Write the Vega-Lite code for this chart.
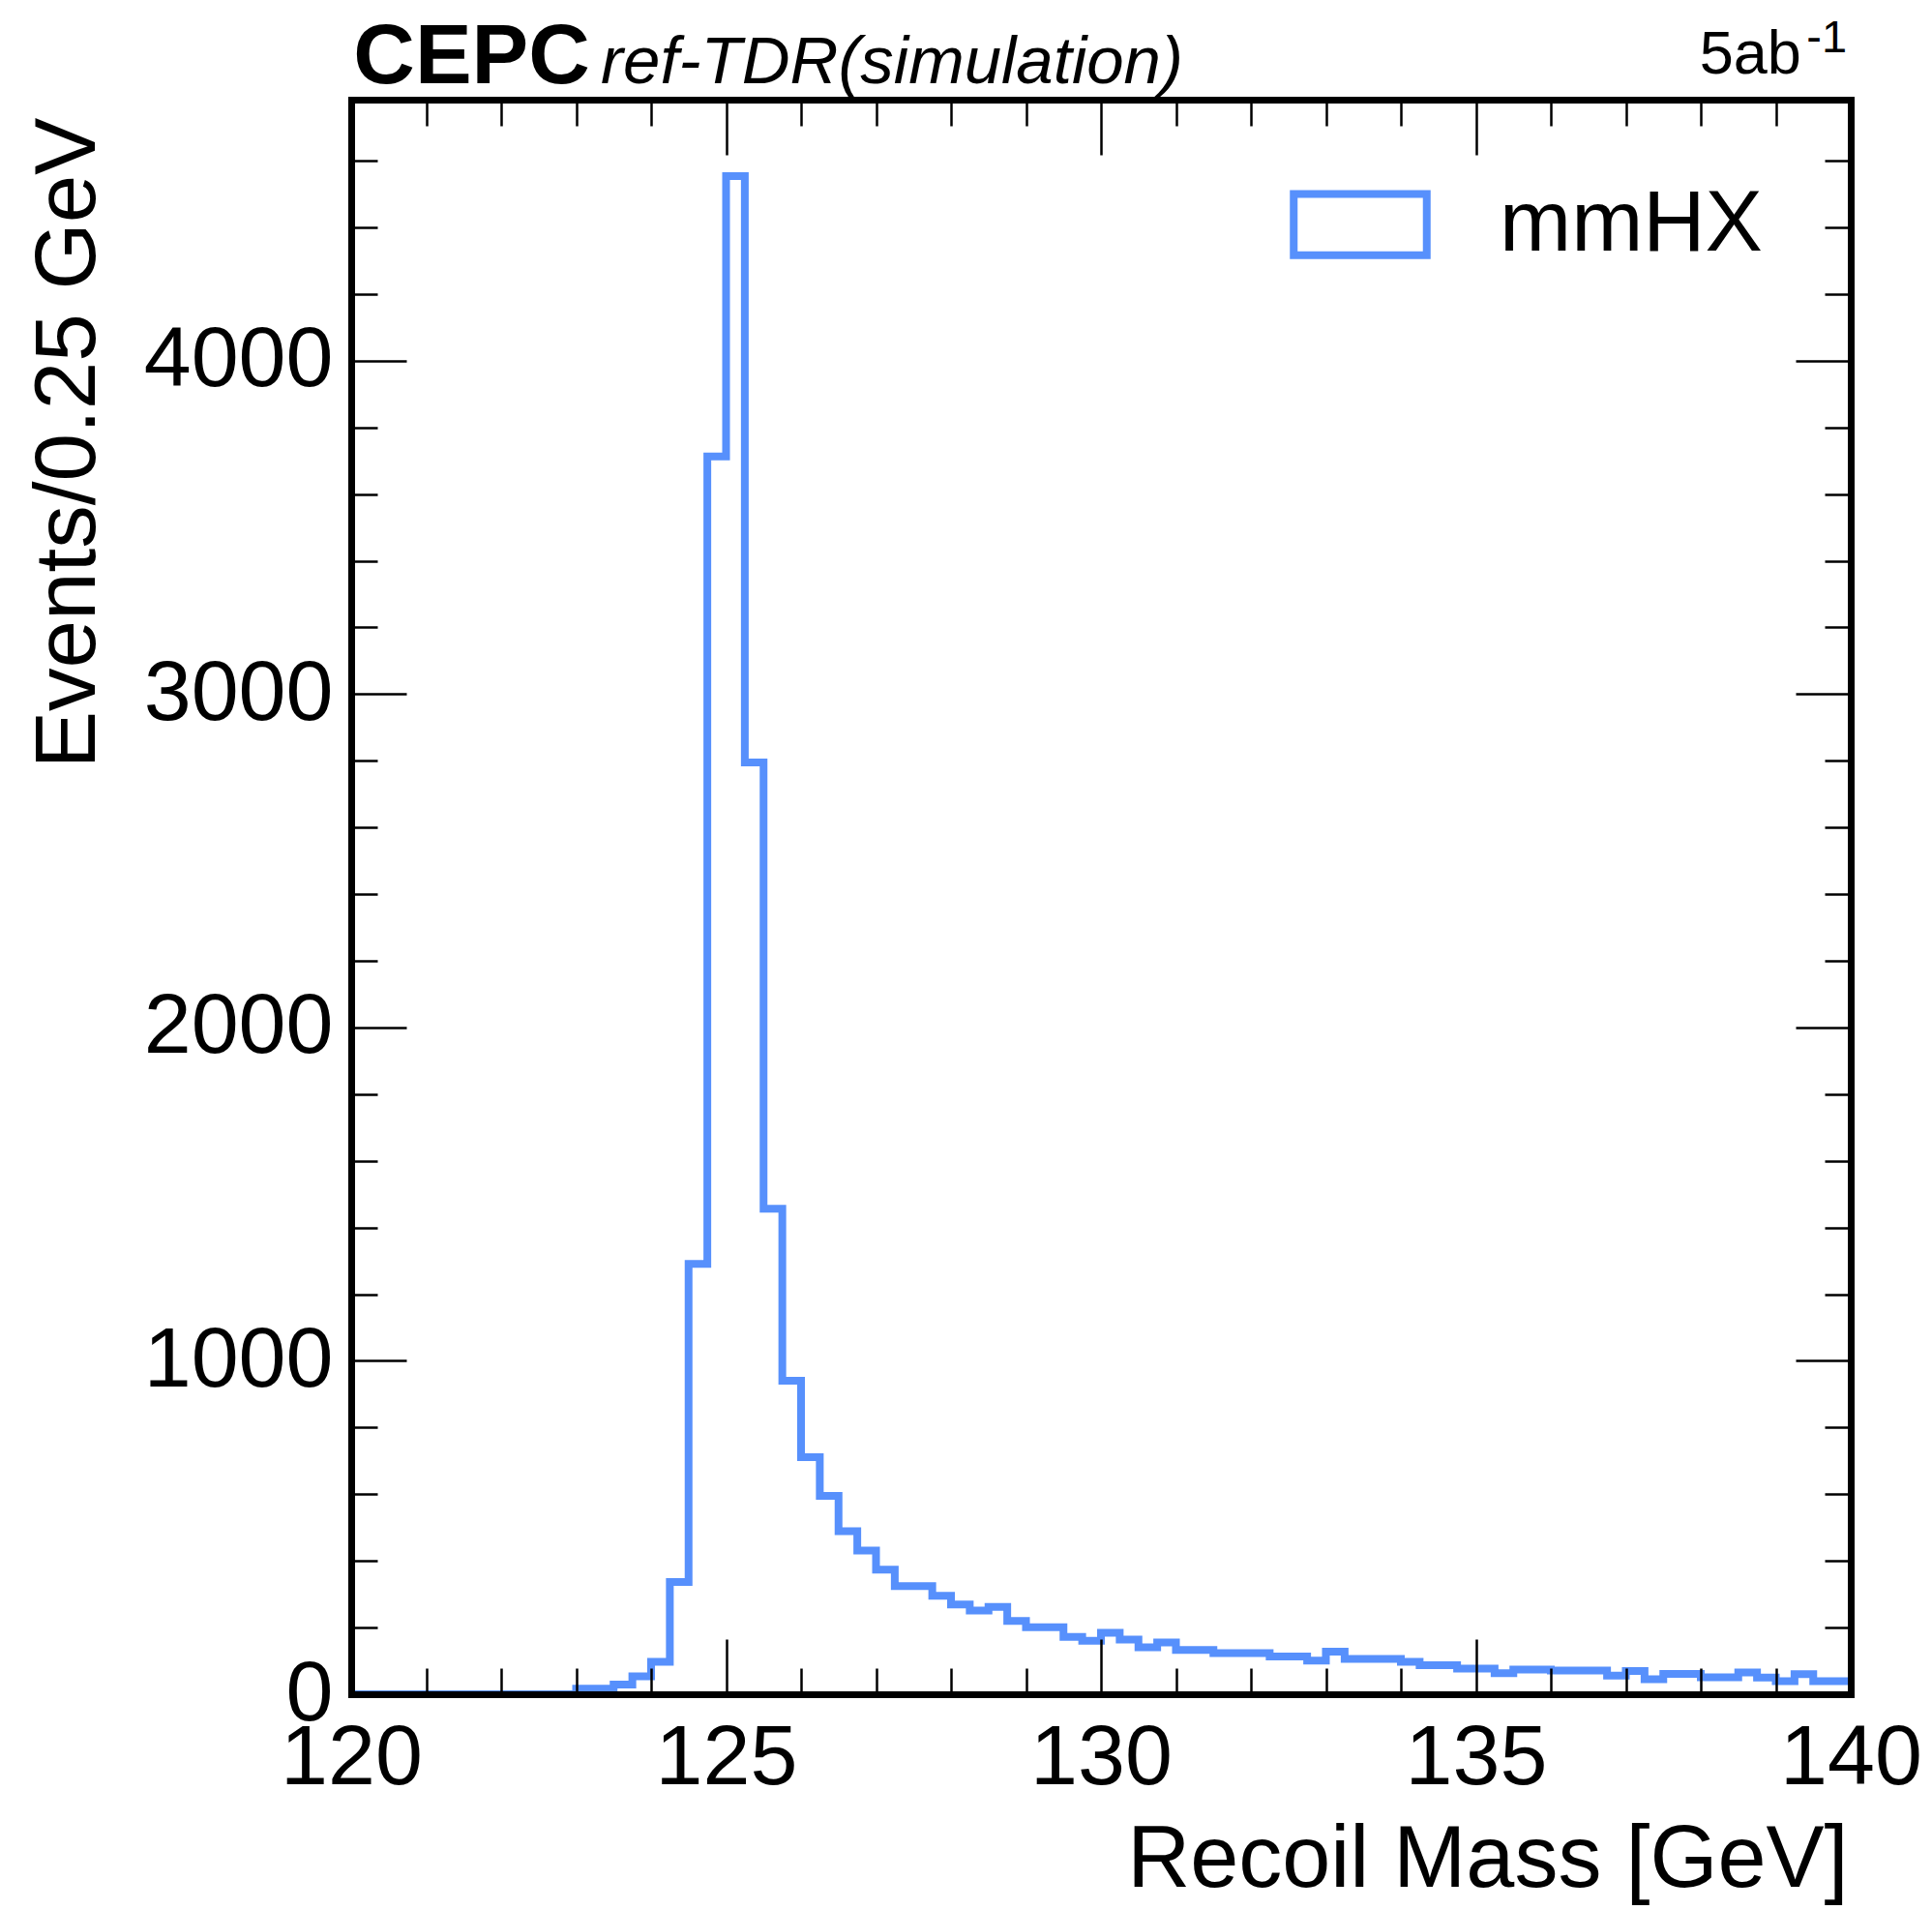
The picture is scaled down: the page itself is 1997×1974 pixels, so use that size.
{
  "$schema": "https://vega.github.io/schema/vega-lite/v6.json",
  "width": 1550,
  "height": 1648,
  "autosize": {"type": "none"},
  "padding": {"left": 363, "top": 103, "right": 84, "bottom": 223},
  "background": "white",
  "view": {"stroke": null},
  "config": {"font": "Liberation Sans"},
  "data": {"values": [
    {"m": 120, "n": 0}, {"m": 120.25, "n": 0}, {"m": 120.5, "n": 0}, {"m": 120.75, "n": 0},
    {"m": 121, "n": 0}, {"m": 121.25, "n": 0}, {"m": 121.5, "n": 0}, {"m": 121.75, "n": 0},
    {"m": 122, "n": 0}, {"m": 122.25, "n": 0}, {"m": 122.5, "n": 0}, {"m": 122.75, "n": 0},
    {"m": 123, "n": 17}, {"m": 123.25, "n": 17}, {"m": 123.5, "n": 29}, {"m": 123.75, "n": 54},
    {"m": 124, "n": 97}, {"m": 124.25, "n": 337}, {"m": 124.5, "n": 1291}, {"m": 124.75, "n": 3713},
    {"m": 125, "n": 4554}, {"m": 125.25, "n": 2795}, {"m": 125.5, "n": 1456}, {"m": 125.75, "n": 940},
    {"m": 126, "n": 711}, {"m": 126.25, "n": 595}, {"m": 126.5, "n": 489}, {"m": 126.75, "n": 431},
    {"m": 127, "n": 374}, {"m": 127.25, "n": 324}, {"m": 127.5, "n": 324}, {"m": 127.75, "n": 295},
    {"m": 128, "n": 269}, {"m": 128.25, "n": 251}, {"m": 128.5, "n": 262}, {"m": 128.75, "n": 220},
    {"m": 129, "n": 201}, {"m": 129.25, "n": 201}, {"m": 129.5, "n": 172}, {"m": 129.75, "n": 160},
    {"m": 130, "n": 184}, {"m": 130.25, "n": 164}, {"m": 130.5, "n": 141}, {"m": 130.75, "n": 155},
    {"m": 131, "n": 133}, {"m": 131.25, "n": 133}, {"m": 131.5, "n": 123}, {"m": 131.75, "n": 123},
    {"m": 132, "n": 123}, {"m": 132.25, "n": 113}, {"m": 132.5, "n": 113}, {"m": 132.75, "n": 101},
    {"m": 133, "n": 128}, {"m": 133.25, "n": 106}, {"m": 133.5, "n": 106}, {"m": 133.75, "n": 106},
    {"m": 134, "n": 97}, {"m": 134.25, "n": 87}, {"m": 134.5, "n": 87}, {"m": 134.75, "n": 77},
    {"m": 135, "n": 77}, {"m": 135.25, "n": 63}, {"m": 135.5, "n": 74}, {"m": 135.75, "n": 74},
    {"m": 136, "n": 71}, {"m": 136.25, "n": 71}, {"m": 136.5, "n": 71}, {"m": 136.75, "n": 56},
    {"m": 137, "n": 70}, {"m": 137.25, "n": 45}, {"m": 137.5, "n": 61}, {"m": 137.75, "n": 61},
    {"m": 138, "n": 51}, {"m": 138.25, "n": 51}, {"m": 138.5, "n": 65}, {"m": 138.75, "n": 50},
    {"m": 139, "n": 39}, {"m": 139.25, "n": 60}, {"m": 139.5, "n": 39}, {"m": 139.75, "n": 39},
    {"m": 140, "n": 39}
  ]},
  "resolve": {"axis": {"x": "independent", "y": "independent"}},
  "layer": [
    {
      "mark": {"type": "line", "interpolate": "step-after", "strokeWidth": 8, "strokeJoin": "miter", "clip": true},
      "encoding": {
        "x": {"field": "m", "type": "quantitative",
          "scale": {"domain": [120, 140], "nice": false, "zero": false},
          "axis": {"orient": "bottom", "values": [120, 125, 130, 135, 140], "format": "d", "ticks": false, "grid": false,
            "domain": true, "domainWidth": 7, "domainColor": "black", "domainCap": "square",
            "labels": true, "labelFont": "Liberation Sans", "labelFontSize": 88, "labelColor": "black", "labelLimit": 0,
            "labelPadding": 22, "labelFlush": false, "labelOverlap": false, "labelBound": false,
            "title": "Recoil Mass [GeV]", "titleFont": "Liberation Sans", "titleFontSize": 90, "titleFontWeight": "normal",
            "titleColor": "black", "titleAlign": "right", "titleBaseline": "alphabetic", "titleX": 1547, "titleY": 198,
            "titleLimit": 0, "zindex": 1}},
        "y": {"field": "n", "type": "quantitative",
          "scale": {"domain": [0, 4783], "nice": false, "zero": false},
          "axis": {"orient": "left", "values": [0, 1000, 2000, 3000, 4000], "format": "d", "ticks": false, "grid": false,
            "domain": true, "domainWidth": 7, "domainColor": "black", "domainCap": "square",
            "labels": true, "labelFont": "Liberation Sans", "labelFontSize": 88, "labelColor": "black", "labelLimit": 0,
            "labelPadding": 19, "labelFlush": false, "labelOverlap": false, "labelBound": false,
            "title": "Events/0.25 GeV", "titleFont": "Liberation Sans", "titleFontSize": 89, "titleFontWeight": "normal",
            "titleColor": "black", "titleAngle": 270, "titleAlign": "right", "titleBaseline": "alphabetic",
            "titleX": -266, "titleY": 18, "titleLimit": 0, "zindex": 1}},
        "color": {"datum": "mmHX", "type": "nominal", "scale": {"range": ["#5790fc"]},
          "legend": {"orient": "none", "legendX": 970, "legendY": 56, "title": null, "padding": 0,
            "symbolType": "M-1,-0.46H1V0.46H-1Z", "symbolSize": 18906, "symbolStrokeWidth": 8,
            "symbolFillColor": "transparent", "symbolStrokeColor": "#5790fc",
            "labelFont": "Liberation Sans", "labelFontSize": 89, "labelColor": "black", "labelOffset": 71, "labelLimit": 0}}
      }
    },
    {
      "mark": {"type": "line", "opacity": 0},
      "encoding": {
        "x": {"field": "m", "type": "quantitative", "scale": {"domain": [120, 140], "nice": false, "zero": false},
          "axis": {"orient": "bottom", "values": [120, 125, 130, 135, 140], "ticks": true, "tickSize": -57, "tickWidth": 2.5,
            "tickColor": "black", "labels": false, "domain": false, "grid": false, "title": null, "zindex": 1}},
        "y": {"field": "n", "type": "quantitative", "scale": {"domain": [0, 4783], "nice": false, "zero": false},
          "axis": {"orient": "left", "values": [0, 1000, 2000, 3000, 4000], "ticks": true, "tickSize": -57, "tickWidth": 2.5,
            "tickColor": "black", "labels": false, "domain": false, "grid": false, "title": null, "zindex": 1}}
      }
    },
    {
      "mark": {"type": "line", "opacity": 0},
      "encoding": {
        "x": {"field": "m", "type": "quantitative", "scale": {"domain": [120, 140], "nice": false, "zero": false},
          "axis": {"orient": "bottom", "values": [121, 122, 123, 124, 126, 127, 128, 129, 131, 132, 133, 134, 136, 137, 138, 139],
            "ticks": true, "tickSize": -27, "tickWidth": 2.5,
            "tickColor": "black", "labels": false, "domain": false, "grid": false, "title": null, "zindex": 1}},
        "y": {"field": "n", "type": "quantitative", "scale": {"domain": [0, 4783], "nice": false, "zero": false},
          "axis": {"orient": "left", "values": [200, 400, 600, 800, 1200, 1400, 1600, 1800, 2200, 2400, 2600, 2800, 3200, 3400, 3600, 3800, 4200, 4400, 4600],
            "ticks": true, "tickSize": -27, "tickWidth": 2.5,
            "tickColor": "black", "labels": false, "domain": false, "grid": false, "title": null, "zindex": 1}}
      }
    },
    {
      "mark": {"type": "line", "opacity": 0},
      "encoding": {
        "x": {"field": "m", "type": "quantitative", "scale": {"domain": [120, 140], "nice": false, "zero": false},
          "axis": {"orient": "top", "values": [120, 125, 130, 135, 140], "ticks": true, "tickSize": -57, "tickWidth": 2.5,
            "tickColor": "black", "labels": false, "domain": true, "domainWidth": 7, "domainColor": "black", "domainCap": "square",
            "grid": false, "title": null, "zindex": 1}},
        "y": {"field": "n", "type": "quantitative", "scale": {"domain": [0, 4783], "nice": false, "zero": false},
          "axis": {"orient": "right", "values": [0, 1000, 2000, 3000, 4000], "ticks": true, "tickSize": -57, "tickWidth": 2.5,
            "tickColor": "black", "labels": false, "domain": true, "domainWidth": 7, "domainColor": "black", "domainCap": "square",
            "grid": false, "title": null, "zindex": 1}}
      }
    },
    {
      "mark": {"type": "line", "opacity": 0},
      "encoding": {
        "x": {"field": "m", "type": "quantitative", "scale": {"domain": [120, 140], "nice": false, "zero": false},
          "axis": {"orient": "top", "values": [121, 122, 123, 124, 126, 127, 128, 129, 131, 132, 133, 134, 136, 137, 138, 139],
            "ticks": true, "tickSize": -27, "tickWidth": 2.5,
            "tickColor": "black", "labels": false, "domain": false, "grid": false, "title": null, "zindex": 1}},
        "y": {"field": "n", "type": "quantitative", "scale": {"domain": [0, 4783], "nice": false, "zero": false},
          "axis": {"orient": "right", "values": [200, 400, 600, 800, 1200, 1400, 1600, 1800, 2200, 2400, 2600, 2800, 3200, 3400, 3600, 3800, 4200, 4400, 4600],
            "ticks": true, "tickSize": -27, "tickWidth": 2.5,
            "tickColor": "black", "labels": false, "domain": false, "grid": false, "title": null, "zindex": 1}}
      }
    },
    {
      "data": {"values": [{}]},
      "mark": {"type": "text", "text": "CEPC", "font": "Liberation Sans", "fontSize": 88, "fontWeight": "bold",
        "align": "left", "baseline": "alphabetic", "color": "black"},
      "encoding": {
        "x": {"datum": 120.03, "type": "quantitative", "scale": {"domain": [120, 140], "nice": false, "zero": false}, "axis": null},
        "y": {"datum": 4833, "type": "quantitative", "scale": {"domain": [0, 4783], "nice": false, "zero": false}, "axis": null}
      }
    },
    {
      "data": {"values": [{}]},
      "mark": {"type": "text", "text": "ref-TDR(simulation)", "font": "Liberation Sans", "fontSize": 69, "fontStyle": "italic",
        "align": "left", "baseline": "alphabetic", "color": "black"},
      "encoding": {
        "x": {"datum": 123.33, "type": "quantitative", "scale": {"domain": [120, 140], "nice": false, "zero": false}, "axis": null},
        "y": {"datum": 4833, "type": "quantitative", "scale": {"domain": [0, 4783], "nice": false, "zero": false}, "axis": null}
      }
    },
    {
      "data": {"values": [{}]},
      "mark": {"type": "text", "text": "5ab", "font": "Liberation Sans", "fontSize": 63,
        "align": "right", "baseline": "alphabetic", "color": "black"},
      "encoding": {
        "x": {"datum": 139.34, "type": "quantitative", "scale": {"domain": [120, 140], "nice": false, "zero": false}, "axis": null},
        "y": {"datum": 4861, "type": "quantitative", "scale": {"domain": [0, 4783], "nice": false, "zero": false}, "axis": null}
      }
    },
    {
      "data": {"values": [{}]},
      "mark": {"type": "text", "text": "-1", "font": "Liberation Sans", "fontSize": 47,
        "align": "right", "baseline": "alphabetic", "color": "black"},
      "encoding": {
        "x": {"datum": 139.95, "type": "quantitative", "scale": {"domain": [120, 140], "nice": false, "zero": false}, "axis": null},
        "y": {"datum": 4924, "type": "quantitative", "scale": {"domain": [0, 4783], "nice": false, "zero": false}, "axis": null}
      }
    }
  ]
}
